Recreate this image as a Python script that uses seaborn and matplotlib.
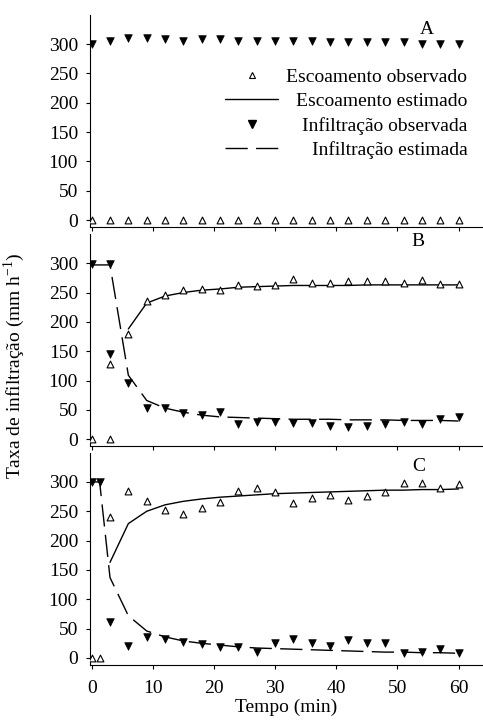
import matplotlib
matplotlib.use("Agg")
import matplotlib.pyplot as plt
from matplotlib.lines import Line2D
import seaborn as sns

# tempo (min)
tempo = [0, 3, 6, 9, 12, 15, 18, 21, 24, 27, 30, 33, 36, 39, 42, 45, 48, 51, 54, 57, 60]
tempo_B = [0, 3, 3, 6, 9, 12, 15, 18, 21, 24, 27, 30, 33, 36, 39, 42, 45, 48, 51, 54, 57, 60]
tempo_C = [0, 1.3, 3, 6, 9, 12, 15, 18, 21, 24, 27, 30, 33, 36, 39, 42, 45, 48, 51, 54, 57, 60]
tempo_esc_B = [6, 9, 12, 15, 18, 21, 24, 27, 30, 33, 36, 39, 42, 45, 48, 51, 54, 57, 60]
tempo_inf_B = [0, 3, 6, 9, 12, 15, 18, 21, 24, 27, 30, 33, 36, 39, 42, 45, 48, 51, 54, 57, 60]
tempo_esc_C = [3, 6, 9, 12, 15, 18, 21, 24, 27, 30, 33, 36, 39, 42, 45, 48, 51, 54, 57, 60]

# painel A
esc_obs_A = [0, 0, 0, 0, 0, 0, 0, 0, 0, 0, 0, 0, 0, 0, 0, 0, 0, 0, 0, 0, 0]
inf_obs_A = [300, 305, 311, 311, 308, 305, 308, 308, 305, 305, 305, 305, 305, 303, 303, 303, 303, 303, 300, 300, 300]

# painel B
esc_obs_B = [0, 0, 129, 179, 235, 245, 254, 256, 255, 263, 261, 263, 273, 267, 267, 269, 270, 270, 266, 271, 264, 264]
inf_obs_B = [298, 298, 146, 96, 53, 53, 45, 42, 46, 26, 30, 29, 27, 27, 22, 20, 22, 26, 30, 26, 34, 38]
esc_est_B = [188, 232, 244, 250, 254, 256, 259, 260, 261, 262, 262, 262, 262, 263, 263, 263, 263, 263, 263]
inf_est_B = [297, 297, 109, 66, 53, 46, 41, 38, 37, 36, 35, 34, 34, 34, 33, 33, 33, 32, 32, 32, 31]

# painel C
esc_obs_C = [0, 0, 240, 284, 267, 253, 245, 255, 265, 285, 290, 282, 264, 272, 278, 269, 276, 283, 299, 298, 290, 297]
inf_obs_C = [300, 300, 61, 20, 36, 32, 27, 24, 19, 19, 10, 25, 33, 26, 20, 31, 26, 26, 9, 10, 15, 9]
esc_est_C = [163, 229, 250, 261, 267, 271, 274, 276, 278, 280, 281, 282, 283, 284, 285, 286, 286, 287, 287, 288]
inf_est_C = [300, 300, 137, 72, 46, 36, 29, 25, 22, 19, 17, 16, 15, 14, 13, 12, 11, 10, 10, 9, 9, 8]

legend_labels = ["Escoamento observado", "Escoamento estimado",
                 "Infiltração observada", "Infiltração estimada"]
DASH = (0, (16, 6))

sns.set_style("ticks")
plt.rcParams['font.family'] = ['Liberation Serif', 'DejaVu Serif']
plt.rcParams['mathtext.fontset'] = 'custom'
plt.rcParams['mathtext.rm'] = 'Liberation Serif'
plt.rcParams['axes.edgecolor'] = 'black'
plt.rcParams['xtick.color'] = 'black'
plt.rcParams['ytick.color'] = 'black'
plt.rcParams['text.color'] = 'black'
plt.rcParams['axes.labelcolor'] = 'black'

fig = plt.figure(figsize=(4.83, 7.28), dpi=100)
axA = fig.add_axes([0.186, 0.688, 0.814, 0.291])
axB = fig.add_axes([0.186, 0.387, 0.814, 0.291])
axC = fig.add_axes([0.186, 0.0865, 0.814, 0.291])


def obs(ax, x, esc, inf):
    sns.scatterplot(x=x, y=esc, ax=ax, marker='^', s=24, facecolor='white',
                    edgecolor='black', linewidth=0.8, zorder=3)
    sns.scatterplot(x=x, y=inf, ax=ax, marker='v', s=30, color='black',
                    edgecolor='black', linewidth=0.5, zorder=3)


obs(axA, tempo, esc_obs_A, inf_obs_A)
obs(axB, tempo_B, esc_obs_B, inf_obs_B)
sns.lineplot(x=tempo_esc_B, y=esc_est_B, ax=axB, color='black', lw=1)
sns.lineplot(x=tempo_inf_B, y=inf_est_B, ax=axB, color='black', lw=1, linestyle=DASH)
obs(axC, tempo_C, esc_obs_C, inf_obs_C)
sns.lineplot(x=tempo_esc_C, y=esc_est_C, ax=axC, color='black', lw=1)
sns.lineplot(x=tempo_C, y=inf_est_C, ax=axC, color='black', lw=1, linestyle=DASH)

for ax, letra, pos in [(axA, "A", (0.857, 0.934)), (axB, "B", (0.835, 0.965)), (axC, "C", (0.837, 0.939))]:
    ax.set_xlim(-0.3, 64)
    ax.set_ylim(-12, 349)
    ax.set_xticks(range(0, 61, 10))
    ax.set_yticks(range(0, 301, 50))
    ax.tick_params(axis='y', length=3, width=0.8, pad=5.5, labelsize=14)
    ax.tick_params(axis='x', length=3, width=0.8, pad=8, labelsize=14)
    sns.despine(ax=ax)
    for s in ['left', 'bottom']:
        ax.spines[s].set_linewidth(0.8)
    ax.text(pos[0], pos[1], letra, transform=ax.transAxes, fontsize=14,
            ha='center', va='center')
    ax.set_xlabel("")
    ax.set_ylabel("")

axA.tick_params(axis='x', labelbottom=False)
axB.tick_params(axis='x', labelbottom=False)
axC.set_xlabel("Tempo (min)", fontsize=14, labelpad=1)
fig.text(0.03, 0.497, r"Taxa de infiltração (mm h$^{\mathregular{-1}}$)", rotation=90,
         ha='center', va='center', fontsize=14)

# legenda com texto alinhado a direita
handles = [Line2D([], [], ls='none', marker='^', mfc='white', mec='black', ms=5, mew=0.8),
           Line2D([], [], color='black', lw=1),
           Line2D([], [], ls='none', marker='v', mfc='black', mec='black', ms=5.5),
           Line2D([], [], color='black', lw=1, ls=DASH)]
leg = axA.legend(handles, legend_labels, loc='upper right', bbox_to_anchor=(0.96, 0.75),
                 frameon=False, fontsize=14, handlelength=2.75, handletextpad=0.4,
                 labelspacing=0.34, borderpad=0, borderaxespad=0)
fig.canvas.draw()
r = fig.canvas.get_renderer()
ws = [t.get_window_extent(r).width for t in leg.get_texts()]
col = leg._legend_handle_box.get_children()[0]
for row, w in zip(col.get_children(), ws):
    row.sep += (max(ws) - w) * 72 / fig.dpi

fig.savefig("out.png", dpi=100)
